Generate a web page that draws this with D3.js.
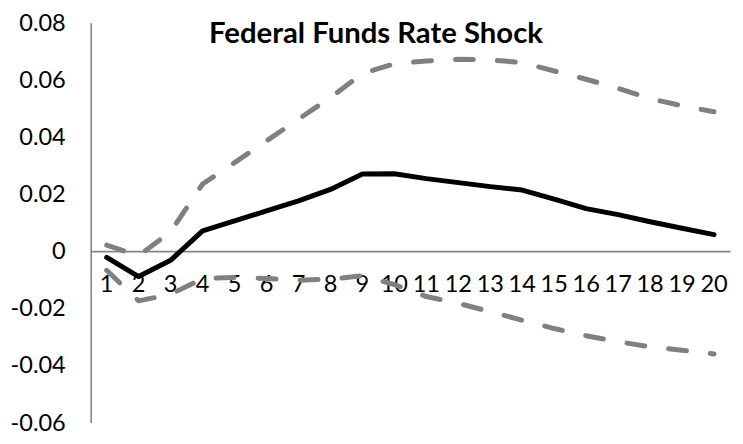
<!DOCTYPE html>
<html>
<head>
<meta charset="utf-8">
<script src="https://cdn.jsdelivr.net/npm/d3@7"></script>
<style>
  html, body { margin: 0; padding: 0; background: #fff; }
  svg { display: block; }
</style>
</head>
<body>
<script>
const title = "Federal Funds Rate Shock";
const periods = ["1","2","3","4","5","6","7","8","9","10","11","12","13","14","15","16","17","18","19","20"];
const response = [-0.0022, -0.0089, -0.0032, 0.0071, 0.0106, 0.0141, 0.0176, 0.0216, 0.0270, 0.0271, 0.0254, 0.0240, 0.0226, 0.0214, 0.0182, 0.0149, 0.0128, 0.0103, 0.0080, 0.0058];
const upperBand = [0.0021, -0.0016, 0.0068, 0.0235, 0.0310, 0.0386, 0.0462, 0.0538, 0.0622, 0.0656, 0.0666, 0.0672, 0.0670, 0.0660, 0.0631, 0.0602, 0.0570, 0.0534, 0.0509, 0.0488];
const lowerBand = [-0.0067, -0.0174, -0.0151, -0.0096, -0.0092, -0.0096, -0.0102, -0.0098, -0.0086, -0.0117, -0.0159, -0.0183, -0.0212, -0.0242, -0.0271, -0.0296, -0.0317, -0.0335, -0.0347, -0.0360];
const yTicks = [-0.06, -0.04, -0.02, 0, 0.02, 0.04, 0.06, 0.08];
const yTickLabels = ["-0.06", "-0.04", "-0.02", "0", "0.02", "0.04", "0.06", "0.08"];

(function () {
const W = 743, H = 444;
const mLeft = 90.7, mRight = 730, mTop = 22.7, mBottom = 422.5;
const font = "Lato, 'Open Sans', sans-serif";

const svg = d3.select("body").append("svg").attr("width", W).attr("height", H);

const x = d3.scaleBand().domain(periods).range([mLeft, mRight]).padding(0);
const y = d3.scaleLinear().domain([-0.06, 0.08]).range([mBottom, mTop]);
const cx = p => x(p) + x.bandwidth() / 2;

// y axis
const yAxis = d3.axisLeft(y).tickValues(yTicks)
  .tickFormat((d, i) => yTickLabels[i]).tickSize(0).tickPadding(25);
const gy = svg.append("g").attr("transform", `translate(${mLeft},0)`).call(yAxis);
gy.select(".domain").attr("stroke", "#868686").attr("stroke-width", 1.6);
gy.selectAll("text").attr("font-family", font).attr("font-size", 23.5).attr("fill", "#000");

// x axis at zero
const xAxis = d3.axisBottom(x).tickSize(0).tickPadding(24);
const gx = svg.append("g").attr("transform", `translate(0,${y(0)})`).call(xAxis);
gx.select(".domain").attr("stroke", "#868686").attr("stroke-width", 1.6);
gx.selectAll("text").attr("font-family", font).attr("font-size", 23.5).attr("fill", "#000");

const line = d3.line().x((d, i) => cx(periods[i])).y(d => y(d));

[upperBand, lowerBand].forEach(s => {
  svg.append("path").datum(s).attr("d", line)
    .attr("fill", "none").attr("stroke", "#808080").attr("stroke-width", 5)
    .attr("stroke-linecap", "round").attr("stroke-linejoin", "round")
    .attr("stroke-dasharray", "18,24");
});

svg.append("path").datum(response).attr("d", line)
  .attr("fill", "none").attr("stroke", "#000").attr("stroke-width", 5)
  .attr("stroke-linecap", "round").attr("stroke-linejoin", "round");

// title
const t = svg.append("text").text(title)
  .attr("x", 376).attr("y", 43.3).attr("text-anchor", "middle")
  .attr("font-family", font).attr("font-weight", "bold").attr("font-size", 27)
  .attr("fill", "#000");
const w = t.node().getComputedTextLength();
if (w > 0) t.attr("font-size", 27 * 334 / w);
})();
</script>
</body>
</html>
